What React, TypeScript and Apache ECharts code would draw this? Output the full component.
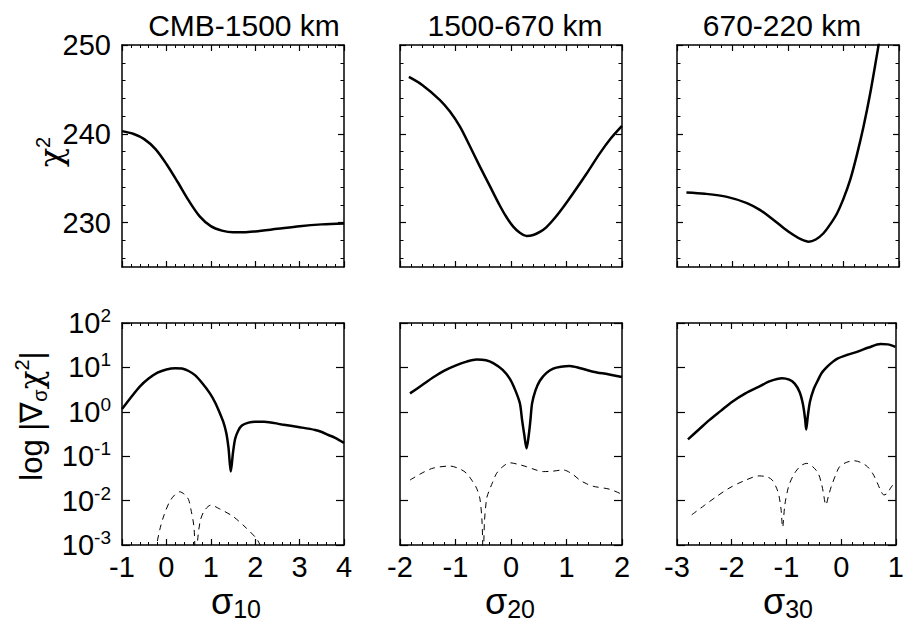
import React, { useEffect, useRef } from "react";
import * as echarts from "echarts";

const FONT = '"Liberation Sans", Arial, Helvetica, sans-serif';
const GREEK = '"DejaVu Serif", "Liberation Serif", serif';

// ---- text / tick data ----
const panelTitles = ["CMB-1500 km", "1500-670 km", "670-220 km"];
const sigmaSubscripts = ["10", "20", "30"];
const sigmaMin = [-1, -2, -3];
const sigmaMax = [4, 2, 1];
const chi2Range = [225, 250];
const chi2Labels = [230, 240, 250];
const chi2MinorTicks = [226, 228, 232, 234, 236, 238, 242, 244, 246, 248];
const gradRange = [0.001, 100];

// ---- top row: chi^2 vs sigma ----
const chi2Sigma10: [number, number][] = [
  [-1, 240.3], [-0.75, 240.0], [-0.5, 239.4], [-0.25, 238.3], [0, 236.6], [0.25, 234.6],
  [0.5, 232.5], [0.75, 230.7], [1.0, 229.6], [1.25, 229.1], [1.5, 228.9], [1.75, 228.9],
  [2.0, 229.0], [2.5, 229.3], [3.0, 229.6], [3.5, 229.8], [4.0, 229.9],
];
const chi2Sigma20: [number, number][] = [
  [-1.84, 246.4], [-1.6, 245.5], [-1.28, 243.8], [-1.1, 242.5], [-0.92, 240.8], [-0.74, 238.6],
  [-0.56, 236.3], [-0.38, 234.1], [-0.2, 231.9], [-0.08, 230.6], [0.04, 229.55], [0.16, 228.85],
  [0.28, 228.5], [0.4, 228.6], [0.52, 228.95], [0.64, 229.5], [0.8, 230.6], [0.96, 231.9],
  [1.12, 233.3], [1.36, 235.5], [1.6, 237.8], [1.8, 239.5], [2.0, 240.9],
];
const chi2Sigma30: [number, number][] = [
  [-2.83, 233.4], [-2.5, 233.25], [-2.1, 232.9], [-1.74, 232.2], [-1.5, 231.4], [-1.26, 230.3],
  [-1.08, 229.4], [-0.9, 228.6], [-0.76, 228.1], [-0.63, 227.85], [-0.5, 228.1], [-0.36, 228.8],
  [-0.24, 229.8], [-0.12, 231.0], [0, 232.7], [0.12, 234.8], [0.24, 237.6], [0.36, 240.8],
  [0.48, 244.5], [0.6, 248.8], [0.7, 252.5],
];

// ---- bottom row: |grad chi^2| (solid) ----
const gradSigma10: [number, number][] = [
  [-1, 1.15], [-0.8, 2.1], [-0.6, 3.7], [-0.4, 5.6], [-0.2, 7.6], [0, 9.0], [0.2, 9.6],
  [0.35, 9.4], [0.5, 8.3], [0.65, 6.6], [0.8, 4.5], [0.98, 2.6], [1.1, 1.6], [1.2, 0.95],
  [1.28, 0.6], [1.35, 0.33], [1.4, 0.15], [1.45, 0.045], [1.5, 0.12], [1.55, 0.25],
  [1.62, 0.38], [1.7, 0.49], [1.85, 0.57], [2.0, 0.6], [2.2, 0.6], [2.6, 0.52], [3.0, 0.45],
  [3.35, 0.39], [3.5, 0.35], [3.65, 0.3], [3.8, 0.26], [4.0, 0.2],
];
const gradSigma20: [number, number][] = [
  [-1.82, 2.6], [-1.6, 4.0], [-1.4, 6.0], [-1.2, 8.5], [-0.98, 11.3], [-0.8, 13.5], [-0.62, 15.0],
  [-0.45, 14.5], [-0.32, 12.5], [-0.15, 8.8], [-0.02, 5.5], [0.08, 3.0], [0.16, 1.55], [0.2, 0.65],
  [0.24, 0.3], [0.28, 0.15], [0.32, 0.3], [0.35, 0.65], [0.38, 1.55], [0.44, 3.0], [0.52, 5.0],
  [0.64, 7.5], [0.76, 9.4], [0.9, 10.4], [1.06, 10.8], [1.25, 9.6], [1.48, 8.0], [1.75, 7.0],
  [2.0, 6.1],
];
const gradSigma30: [number, number][] = [
  [-2.8, 0.24], [-2.6, 0.4], [-2.41, 0.65], [-2.2, 1.05], [-1.99, 1.69], [-1.75, 2.6], [-1.5, 3.7],
  [-1.3, 4.9], [-1.08, 5.7], [-0.95, 5.3], [-0.85, 4.3], [-0.76, 2.8], [-0.7, 1.5], [-0.66, 0.7],
  [-0.64, 0.4], [-0.61, 0.8], [-0.57, 1.7], [-0.5, 3.3], [-0.42, 5.3], [-0.36, 7.4], [-0.25, 10.5],
  [-0.15, 13.5], [-0.06, 16], [0.1, 19], [0.3, 22.6], [0.5, 28], [0.72, 33.5], [0.85, 33], [0.99, 29],
];

// ---- bottom row: dashed curves ----
const dashSigma10: [number, number][] = [
  [-0.25, 0.0007], [-0.15, 0.0022], [-0.05, 0.0048], [0.1, 0.0105], [0.3, 0.0158], [0.42, 0.0135],
  [0.5, 0.0105], [0.55, 0.0065], [0.62, 0.0026], [0.66, 0.0004], [0.7, 0.0012], [0.76, 0.0034],
  [0.85, 0.0058], [1.0, 0.0079], [1.2, 0.0065], [1.5, 0.0044], [1.8, 0.0024], [2.05, 0.0013],
  [2.2, 0.0006],
];
const dashSigma20: [number, number][] = [
  [-1.82, 0.029], [-1.6, 0.042], [-1.4, 0.054], [-1.1, 0.06], [-0.9, 0.05], [-0.8, 0.041],
  [-0.7, 0.028], [-0.62, 0.019], [-0.56, 0.011], [-0.52, 0.003], [-0.5, 0.0003], [-0.48, 0.003],
  [-0.44, 0.011], [-0.4, 0.016], [-0.33, 0.026], [-0.26, 0.041], [-0.15, 0.058], [-0.02, 0.071],
  [0.12, 0.066], [0.28, 0.058], [0.45, 0.049], [0.58, 0.045], [0.75, 0.046], [0.94, 0.049],
  [1.1, 0.04], [1.24, 0.029], [1.36, 0.024], [1.48, 0.021], [1.78, 0.018], [1.99, 0.014],
];
const dashSigma30: [number, number][] = [
  [-2.73, 0.0048], [-2.5, 0.0078], [-2.28, 0.0123], [-2.05, 0.019], [-1.8, 0.027], [-1.5, 0.036],
  [-1.35, 0.034], [-1.26, 0.029], [-1.18, 0.019], [-1.14, 0.0134], [-1.1, 0.0065], [-1.07, 0.0025],
  [-1.03, 0.008], [-0.96, 0.021], [-0.88, 0.036], [-0.81, 0.049], [-0.72, 0.063], [-0.63, 0.069],
  [-0.52, 0.058], [-0.42, 0.041], [-0.36, 0.024], [-0.33, 0.016], [-0.28, 0.008], [-0.23, 0.013],
  [-0.18, 0.021], [-0.1, 0.038], [-0.03, 0.058], [0.1, 0.073], [0.24, 0.079], [0.36, 0.072],
  [0.48, 0.058], [0.58, 0.04], [0.66, 0.025], [0.72, 0.017], [0.78, 0.0134], [0.84, 0.0145],
  [0.9, 0.019], [0.99, 0.027],
];

const topCurves = [chi2Sigma10, chi2Sigma20, chi2Sigma30];
const bottomSolid = [gradSigma10, gradSigma20, gradSigma30];
const bottomDashed = [dashSigma10, dashSigma20, dashSigma30];

// ---- layout ----
const colLeft = [122, 400, 677];
const rowTop = [45, 323];
const PANEL = 222;
const titleX = [244, 515, 782];
const xNameX = [236, 510, 788];

function buildOption() {
  const grid: any[] = [];
  const xAxis: any[] = [];
  const yAxis: any[] = [];
  const series: any[] = [];
  const black = "#000";
  const axisLine = { show: true, onZero: false, lineStyle: { color: black, width: 1.5 } };
  const noLine = { show: false, onZero: false };

  for (let row = 0; row < 2; row++) {
    for (let col = 0; col < 3; col++) {
      const g = grid.length;
      grid.push({ left: colLeft[col], top: rowTop[row], width: PANEL, height: PANEL });

      const xBase = {
        type: "value",
        gridIndex: g,
        min: sigmaMin[col],
        max: sigmaMax[col],
        interval: 1,
        axisLine,
        axisTick: { show: true, inside: true, length: 6, lineStyle: { color: black, width: 1.2 } },
        minorTick: { show: true, splitNumber: 5, length: 3, lineStyle: { color: black, width: 1 } },
        splitLine: { show: false },
        minorSplitLine: { show: false },
      };
      const xi = xAxis.length;
      xAxis.push({
        ...xBase,
        position: "bottom",
        axisLabel:
          row === 1
            ? { show: true, fontSize: 29, fontFamily: FONT, color: black, margin: 7, showMinLabel: true, showMaxLabel: true, hideOverlap: false }
            : { show: false },
      });
      xAxis.push({ ...xBase, position: "top", axisLabel: { show: false } });

      const yi = yAxis.length;
      if (row === 0) {
        const yBase = {
          type: "value",
          gridIndex: g,
          min: chi2Range[0],
          max: chi2Range[1],
          splitLine: { show: false },
        };
        const majorTick = { show: true, inside: true, length: 6, customValues: chi2Labels, lineStyle: { color: black, width: 1.2 } };
        const minorTick = { show: true, inside: true, length: 3.5, customValues: chi2MinorTicks, lineStyle: { color: black, width: 1 } };
        yAxis.push({
          ...yBase,
          position: "left",
          axisLine,
          axisTick: majorTick,
          axisLabel:
            col === 0
              ? { show: true, customValues: chi2Labels, fontSize: 29, fontFamily: FONT, color: black, margin: 11 }
              : { show: false },
        });
        yAxis.push({ ...yBase, position: "right", axisLine, axisTick: majorTick, axisLabel: { show: false } });
        yAxis.push({ ...yBase, position: "left", axisLine: noLine, axisTick: minorTick, axisLabel: { show: false } });
        yAxis.push({ ...yBase, position: "right", axisLine: noLine, axisTick: minorTick, axisLabel: { show: false } });
      } else {
        const yBase = {
          type: "log",
          logBase: 10,
          gridIndex: g,
          min: gradRange[0],
          max: gradRange[1],
          axisLine,
          axisTick: { show: true, inside: true, length: 8, lineStyle: { color: black, width: 1.2 } },
          splitLine: { show: false },
          minorTick: { show: false },
        };
        yAxis.push({
          ...yBase,
          position: "left",
          axisLabel:
            col === 0
              ? {
                  show: true,
                  margin: 11,
                  formatter: (v: number) => `{b|10}{s|${Math.round(Math.log10(v))}}`,
                  rich: {
                    b: { fontSize: 29, fontFamily: FONT, color: black, lineHeight: 34 },
                    s: { fontSize: 19, fontFamily: FONT, color: black, lineHeight: 16, verticalAlign: "top" },
                  },
                }
              : { show: false },
        });
        yAxis.push({ ...yBase, position: "right", axisLabel: { show: false } });
      }

      const common = {
        type: "line",
        xAxisIndex: xi,
        yAxisIndex: yi,
        showSymbol: false,
        symbol: "none",
        clip: true,
        silent: true,
        smooth: 0.3,
      };
      if (row === 0) {
        series.push({ ...common, data: topCurves[col], lineStyle: { color: black, width: 2.5 } });
      } else {
        series.push({ ...common, data: bottomSolid[col], lineStyle: { color: black, width: 2.5 } });
        series.push({ ...common, data: bottomDashed[col], lineStyle: { color: black, width: 1, type: [6, 5] } });
      }
    }
  }

  const graphic: any[] = [];
  panelTitles.forEach((t, i) => {
    graphic.push({
      type: "text",
      x: titleX[i],
      y: 25,
      style: { text: t, fontSize: 30, fontFamily: FONT, fill: black, align: "center", verticalAlign: "middle", textAlign: "center", textVerticalAlign: "middle" },
    });
  });
  sigmaSubscripts.forEach((s, i) => {
    graphic.push({
      type: "text",
      x: xNameX[i],
      y: 601,
      style: {
        text: `{g|σ}{d|${s}}`,
        align: "center",
        verticalAlign: "middle",
        textAlign: "center",
        textVerticalAlign: "middle",
        rich: {
          g: { fontSize: 36, fontFamily: FONT, fill: black, lineHeight: 40 },
          d: { fontSize: 25, fontFamily: FONT, fill: black, lineHeight: 22, verticalAlign: "bottom" },
        },
      },
    });
  });
  graphic.push({
    type: "text",
    x: 51,
    y: 152,
    rotation: Math.PI / 2,
    style: {
      text: "{c|χ}{s|2}",
      align: "center",
      verticalAlign: "middle",
      textAlign: "center",
      textVerticalAlign: "middle",
      rich: {
        c: { fontSize: 32, fontFamily: GREEK, fill: black, lineHeight: 36 },
        s: { fontSize: 20, fontFamily: FONT, fill: black, lineHeight: 18, verticalAlign: "top" },
      },
    },
  });
  graphic.push({
    type: "text",
    x: 31,
    y: 416,
    rotation: Math.PI / 2,
    style: {
      text: "{m|log |∇}{d|σ}{c|χ}{s|2}{m||}",
      align: "center",
      verticalAlign: "middle",
      textAlign: "center",
      textVerticalAlign: "middle",
      rich: {
        m: { fontSize: 31, fontFamily: FONT, fill: black, lineHeight: 38 },
        c: { fontSize: 31, fontFamily: GREEK, fill: black, lineHeight: 38 },
        d: { fontSize: 20, fontFamily: FONT, fill: black, lineHeight: 20, verticalAlign: "bottom" },
        s: { fontSize: 20, fontFamily: FONT, fill: black, lineHeight: 20, verticalAlign: "top" },
      },
    },
  });

  return {
    animation: false,
    backgroundColor: "#fff",
    grid,
    xAxis,
    yAxis,
    series,
    graphic,
  };
}

export default function App() {
  const ref = useRef<HTMLDivElement>(null);
  useEffect(() => {
    if (!ref.current) return;
    const chart = echarts.init(ref.current, undefined, { renderer: "svg" });
    chart.setOption(buildOption() as any);
    return () => chart.dispose();
  }, []);
  return (
    <div
      ref={ref}
      style={{ position: "fixed", left: 0, top: 0, width: 907, height: 625, background: "#fff" }}
    />
  );
}
